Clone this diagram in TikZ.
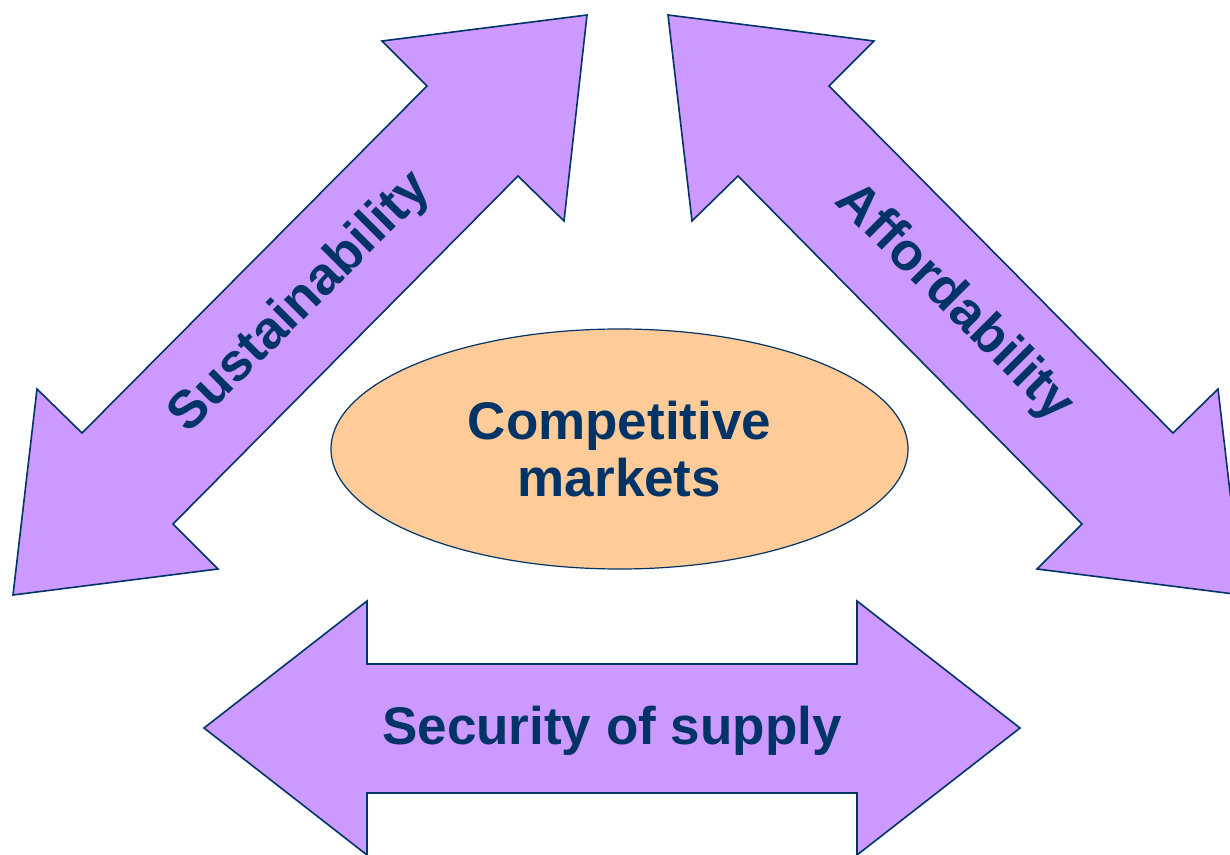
\documentclass[tikz,border=0pt]{standalone}
\usepackage{fontspec}
\setmainfont{Liberation Sans}
\usetikzlibrary{shapes.geometric}
\begin{document}
\begin{tikzpicture}[x=0.5pt, y=-0.5pt]
            \definecolor{Acolor}{RGB}{204, 153, 255}
            \definecolor{Ecolor}{RGB}{255, 204, 153}
            \definecolor{Lcolor}{RGB}{0, 51, 102}
            \def\labelfont{\fontsize{26.5}{28.5}\selectfont\bfseries}
            \tikzset{blockarrow/.style={draw=Lcolor, fill=Acolor, line width=0.8pt, line join=miter},
                     arrowlabel/.style={text=Lcolor, font=\labelfont, inner sep=0pt}}
            \useasboundingbox (0, 0) rectangle (1230, 855);
            \clip (0, 0) rectangle (1230, 855);
            \draw[blockarrow] (587, 15) -- (382, 41) -- (427, 86) -- (82, 433) -- (37, 389) -- (13, 595) -- (218, 569) -- (173, 524) -- (518, 176) -- (564, 221) -- cycle;
            \draw[blockarrow] (668, 15) -- (874, 41) -- (829, 86) -- (1173, 433) -- (1218, 389) -- (1242, 595) -- (1037, 569) -- (1082, 524) -- (738, 176) -- (692, 221) -- cycle;
            \draw[blockarrow] (204, 728) -- (367, 601) -- (367, 664) -- (857, 664) -- (857, 601) -- (1020, 728) -- (857, 855) -- (857, 793) -- (367, 793) -- (367, 855) -- cycle;
            \node[draw=Lcolor, fill=Ecolor, shape=ellipse, line width=0.6pt, minimum width=288.5pt, minimum height=120pt, inner sep=0pt, text=Lcolor, font=\labelfont, align=center] (market) at (619.5, 449) {Competitive\\markets};
            \node[arrowlabel, rotate=45] (sustain) at (301, 303) {Sustainability};
            \node[arrowlabel, rotate=-45] (afford) at (954, 303) {Affordability};
            \node[arrowlabel] (supply) at (612, 731) {Security of supply};
        \end{tikzpicture}
\end{document}
